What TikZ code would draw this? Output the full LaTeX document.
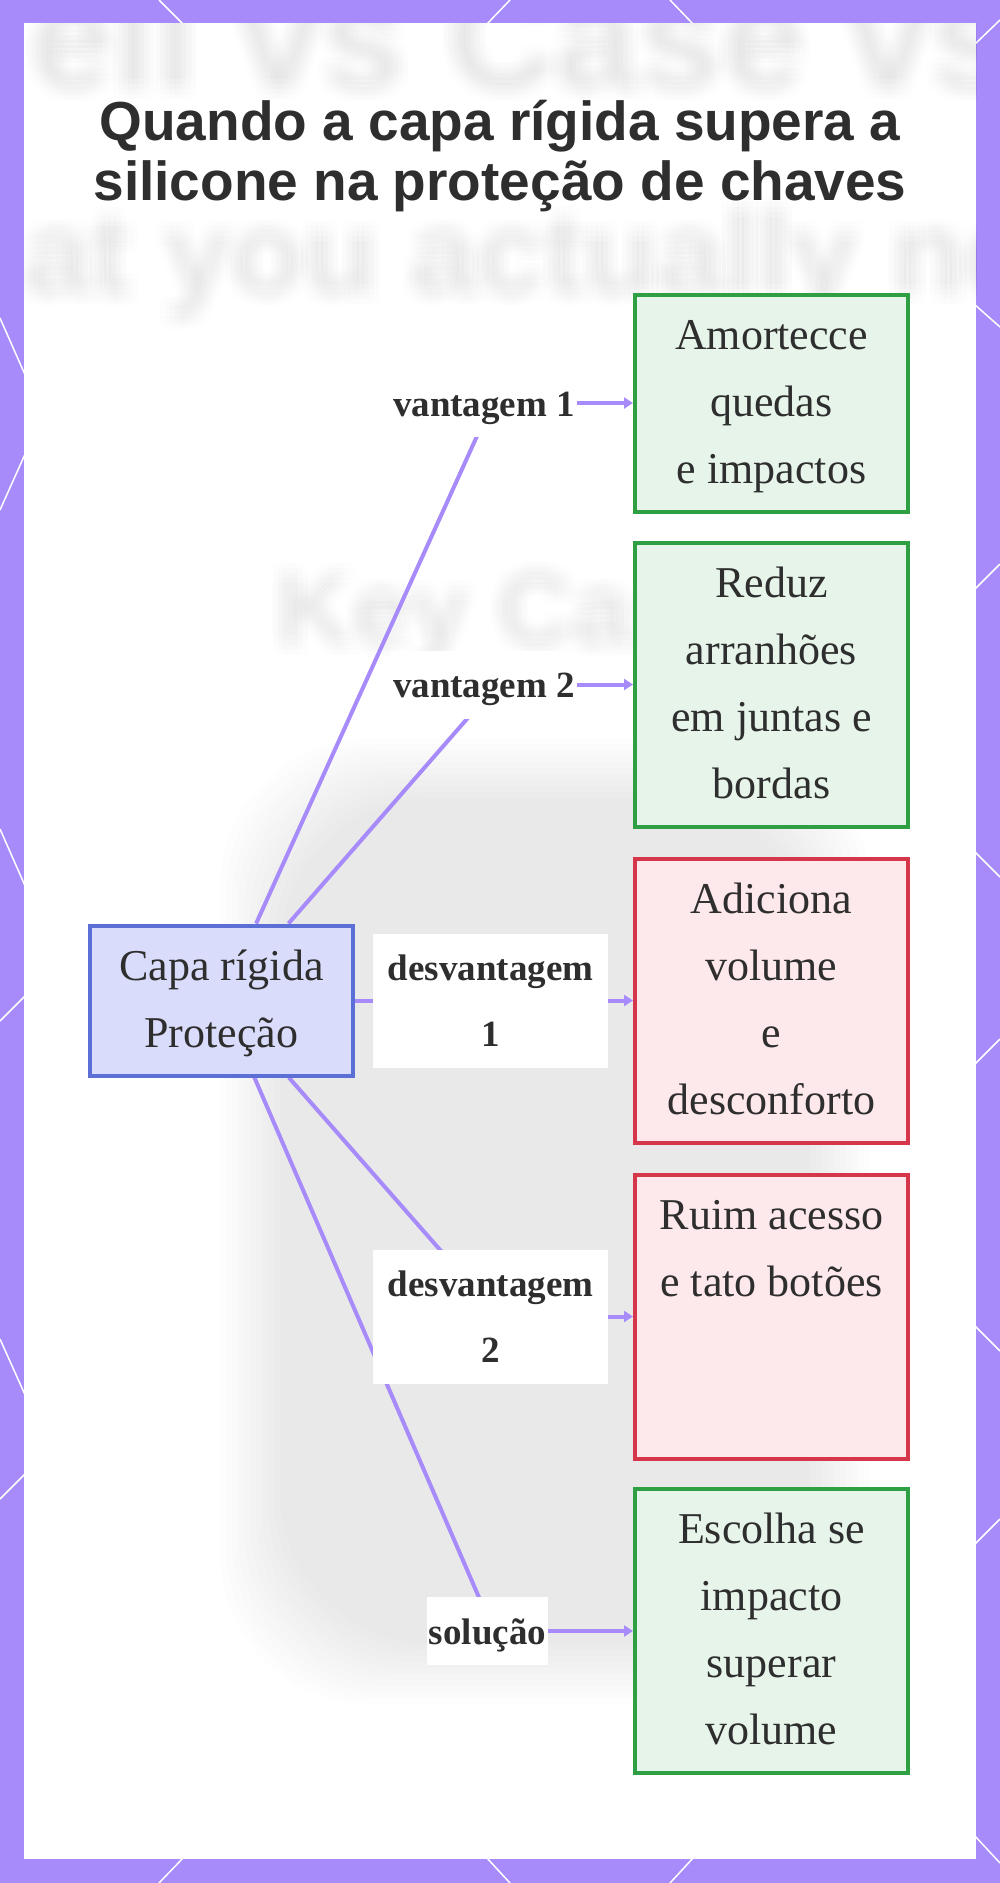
\documentclass[tikz,border=0pt]{standalone}
\usepackage{fontspec}
\setmainfont{Liberation Serif}
\newfontfamily\titlefont{Liberation Sans}
\usetikzlibrary{arrows.meta}
\definecolor{framecol}{HTML}{A78BFA}
\definecolor{edgecol}{HTML}{A78BFA}
\definecolor{mainfill}{HTML}{D9DCFA}
\definecolor{maindraw}{HTML}{5B6FD6}
\definecolor{goodfill}{HTML}{E6F4EA}
\definecolor{gooddraw}{HTML}{2EA043}
\definecolor{badfill}{HTML}{FDE8EC}
\definecolor{baddraw}{HTML}{D6364A}
\definecolor{ink}{HTML}{2E2E2E}
\pgfdeclarelayer{bg}
\pgfdeclarelayer{edges}
\pgfsetlayers{bg,edges,main}
\tikzset{
  boxtext/.style={font=\fontsize{44}{67}\selectfont, text=ink, align=center, line width=4pt, inner xsep=4pt, inner ysep=8pt},
  mainbox/.style={boxtext, draw=maindraw, fill=mainfill, minimum width=263pt},
  goodbox/.style={boxtext, draw=gooddraw, fill=goodfill, minimum width=273pt},
  badbox/.style={boxtext, draw=baddraw, fill=badfill, minimum width=273pt},
  elabel/.style={font=\fontsize{37}{66}\selectfont\bfseries, text=ink, fill=white, align=center, inner xsep=2pt, inner ysep=1pt},
  link/.style={draw=edgecol, line width=4pt},
  arrowlink/.style={link, -{Triangle[length=9pt,width=11pt]}},
  frameline/.style={draw=white, line width=1.5pt},
  blurtext/.style={anchor=base west, inner sep=0pt, text=black, opacity=0.0035},
}
\begin{document}
\begin{tikzpicture}[x=1pt,y=-1pt]
\useasboundingbox (0,0) rectangle (1000,1883);
\begin{pgfonlayer}{bg}
  \fill[framecol] (0,0) rectangle (1000,1883);
  % decorative lines in the frame
  \draw[frameline] (159,0) -- (184,25);
  \draw[frameline] (510,0) -- (486,25);
  \draw[frameline] (670,0) -- (694,25);
  \draw[frameline] (1000,20) -- (974,45);
  \draw[frameline] (974,304) -- (1000,327);
  \draw[frameline] (974,590) -- (1000,564);
  \draw[frameline] (974,851) -- (1000,877);
  \draw[frameline] (974,1065) -- (1000,1039);
  \draw[frameline] (974,1325) -- (1000,1351);
  \draw[frameline] (974,1545) -- (1000,1519);
  \draw[frameline] (974,1835) -- (1000,1863);
  \draw[frameline] (0,318) -- (26,377);
  \draw[frameline] (26,452) -- (0,510);
  \draw[frameline] (0,829) -- (26,888);
  \draw[frameline] (26,995) -- (0,1021);
  \draw[frameline] (0,1339) -- (26,1397);
  \draw[frameline] (26,1473) -- (0,1499);
  \draw[frameline] (184,1857) -- (159,1883);
  \draw[frameline] (486,1857) -- (510,1883);
  \draw[frameline] (694,1857) -- (670,1883);
  \fill[white] (24,23) rectangle (976,1859);
  % faint blurred background photo
  \begin{scope}
    \clip (24,23) rectangle (976,1859);
    \foreach \i in {0,...,10}{
      \fill[black, opacity=0.009, rounded corners=150pt] ({220+\i*6},{738+\i*6}) rectangle ({870-\i*6},{1704-\i*6});
    }
    \foreach \dx in {-10,-5,0,5,10}{
      \foreach \dy in {-10,-5,0,5,10}{
        \node[blurtext, font=\titlefont\bfseries\fontsize{150}{150}\selectfont] (blurA\dx\dy) at ({30+\dx},{89+\dy}) {ell vs Case vs};
        \node[blurtext, font=\titlefont\bfseries\fontsize{120}{120}\selectfont] (blurB\dx\dy) at ({24+\dx},{294+\dy}) {at you actually need};
        \node[blurtext, font=\titlefont\bfseries\fontsize{105}{105}\selectfont] (blurC\dx\dy) at ({276+\dx},{645+\dy}) {Key Case};
      }
    }
  \end{scope}
\end{pgfonlayer}

% title
\node[font=\titlefont\bfseries\fontsize{55}{60}\selectfont, text=ink, align=center, inner sep=0pt] (title) at (500,158)
  {\strut Quando a capa rígida supera a\\\strut silicone na proteção de chaves};

% central node
\node[mainbox] (main) at (221.5,1000.5) {\strut Capa rígida\\\strut Proteção};

% outcome boxes
\node[goodbox] (b1) at (771.5,403) {\strut Amortecce\\\strut quedas\\\strut e impactos};
\node[goodbox] (b2) at (771.5,684.5) {\strut Reduz\\\strut arranhões\\\strut em juntas e\\\strut bordas};
\node[badbox] (b3) at (771.5,1000.5) {\strut Adiciona\\\strut volume\\\strut e\\\strut desconforto};
\node[badbox] (b4) at (771.5,1316.5) {\strut Ruim acesso\\\strut e tato botões\\\strut\\\strut};
\node[goodbox] (b5) at (771.5,1631) {\strut Escolha se\\\strut impacto\\\strut superar\\\strut volume};

% edge labels
\node[elabel] (v1) at (484,403) {\strut vantagem 1};
\node[elabel] (v2) at (484,684.5) {\strut vantagem 2};
\node[elabel, minimum width=235pt] (d1) at (490.5,1000.5) {\strut desvantagem\\\strut 1};
\node[elabel, minimum width=235pt] (d2) at (490.5,1316.5) {\strut desvantagem\\\strut 2};
\node[elabel] (sol) at (487.5,1631) {\strut solução};

\begin{pgfonlayer}{edges}
  \draw[link] (main) -- ([xshift=8pt]v1.center);
  \draw[link] (main) -- ([xshift=13pt]v2.center);
  \draw[link] (main) -- (d1);
  \draw[link] (main) -- ([xshift=8pt]d2.center);
  \draw[link] (main) -- ([xshift=6pt]sol.center);
  \draw[arrowlink] (v1.east) -- (b1.west);
  \draw[arrowlink] (v2.east) -- (b2.west);
  \draw[arrowlink] (d1.east) -- (b3.west);
  \draw[arrowlink] (d2.east) -- (b4.west);
  \draw[arrowlink] (sol.east) -- (b5.west);
\end{pgfonlayer}
\end{tikzpicture}
\end{document}
